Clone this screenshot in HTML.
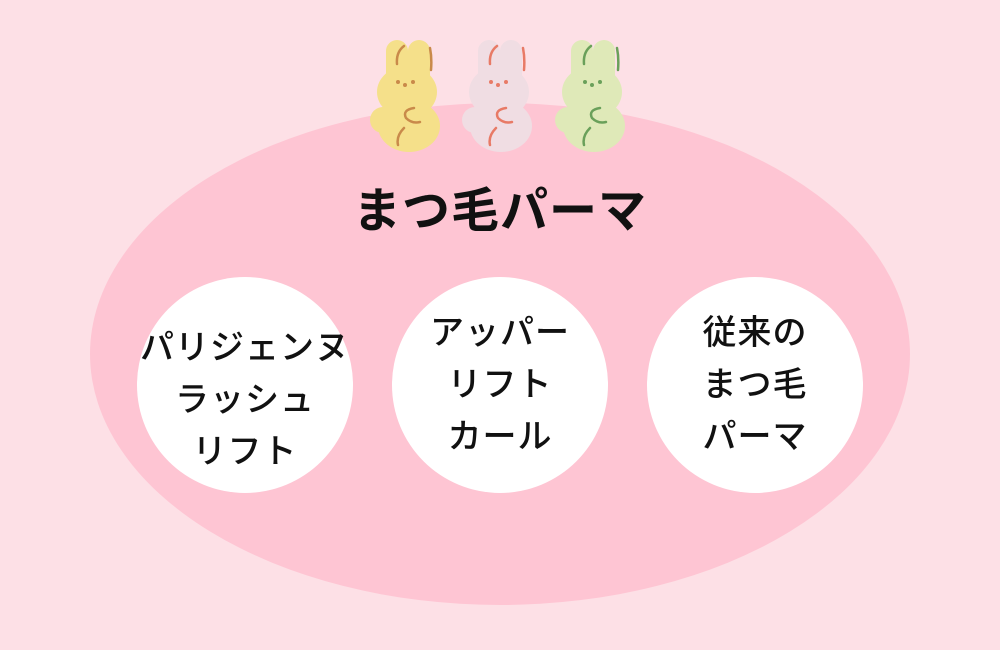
<!DOCTYPE html>
<html><head><meta charset="utf-8"><style>
body{margin:0;width:1000px;height:650px;background:#fde0e6;overflow:hidden;position:relative;font-family:"Liberation Sans","Noto Sans CJK JP",sans-serif;}
svg{position:absolute;left:0;top:0}
.t{position:absolute;text-align:center;color:#111;font-weight:bold;}
.c{position:absolute;width:216px;height:216px;border-radius:50%;background:#fff;top:277px;}
.c div{position:absolute;left:-20px;right:-20px;top:45px;text-align:center;font-size:34px;line-height:52px;font-weight:500;color:#111;letter-spacing:1px}
.c.u div{top:30px}
</style></head><body>
<svg width="1000" height="650">
<ellipse cx="500" cy="354" rx="410" ry="251" fill="#fec5d3"/>
<defs>
<g id="b">
<rect x="16" y="2" width="22" height="46" rx="11"/>
<rect x="38" y="2" width="22" height="46" rx="11"/>
<ellipse cx="37" cy="54" rx="30" ry="26"/>
<ellipse cx="39" cy="88" rx="31" ry="26"/>
<circle cx="13" cy="82" r="13"/>
</g>
</defs>
<g fill="#f5e08a"><use href="#b" x="370" y="38"/></g>
<g fill="#f0dde3"><use href="#b" x="462" y="38"/></g>
<g fill="#dfe9b8"><use href="#b" x="555" y="38"/></g>
<g fill="none" stroke-width="2.5" stroke-linecap="round">
<path d="M404 46 Q396 52 397 64 M430 48 Q432 58 431 70 M414 108 Q402 110 406 118 Q412 124 420 122 M404 128 Q396 136 398 145" stroke="#c98a4a"/>
<path d="M497 46 Q489 52 490 64 M523 48 Q525 58 524 70 M506 108 Q494 110 498 118 Q504 124 512 122 M496 128 Q488 136 490 145" stroke="#e87a66"/>
<path d="M591 46 Q583 52 584 64 M617 48 Q619 58 618 70 M600 108 Q588 110 592 118 Q598 124 606 122 M590 128 Q582 136 584 145" stroke="#6aa05a"/>
</g>
<g fill="#c98a4a"><circle cx="398" cy="82" r="2"/><circle cx="405" cy="85" r="2"/><circle cx="413" cy="82" r="2"/></g>
<g fill="#e87a66"><circle cx="491" cy="82" r="2"/><circle cx="498" cy="85" r="2"/><circle cx="506" cy="82" r="2"/></g>
<g fill="#6aa05a"><circle cx="585" cy="82" r="2"/><circle cx="592" cy="85" r="2"/><circle cx="600" cy="82" r="2"/></g>
</svg>
<div class="t" style="left:0;width:1000px;top:182px;font-size:48px;line-height:60px;letter-spacing:1px">まつ毛パーマ</div>
<div class="c" style="left:137px"><div>パリジェンヌ<br>ラッシュ<br>リフト</div></div>
<div class="c u" style="left:392px"><div>アッパー<br>リフト<br>カール</div></div>
<div class="c u" style="left:647px"><div>従来の<br>まつ毛<br>パーマ</div></div>
</body></html>
